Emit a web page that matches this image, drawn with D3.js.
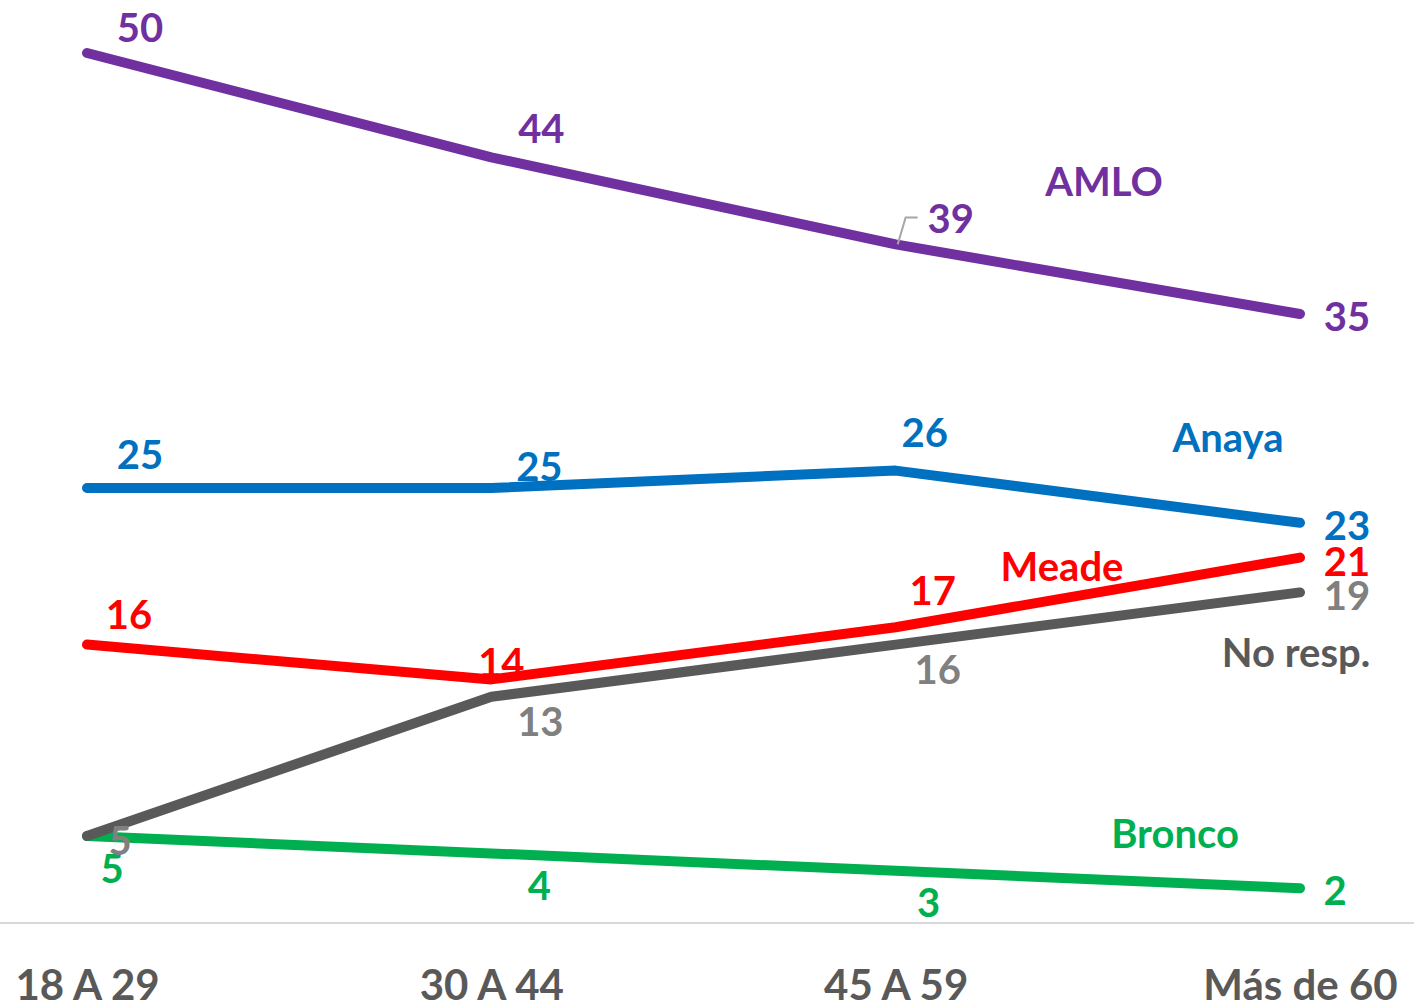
<!DOCTYPE html>
<html>
<head>
<meta charset="utf-8">
<script src="https://cdn.jsdelivr.net/npm/d3@7/dist/d3.min.js"></script>
<style>
  html, body { margin: 0; padding: 0; background: #fff; }
  svg text { font-family: Lato, "Open Sans", sans-serif; }
</style>
</head>
<body>
<svg id="chart"></svg>
<script>
var ageGroups = ['18 A 29', '30 A 44', '45 A 59', 'Más de 60'];

var amlo = [50, 44, 39, 35];
var anaya = [25, 25, 26, 23];
var meade = [16, 14, 17, 21];
var noResp = [5, 13, 16, 19];
var bronco = [5, 4, 3, 2];

var seriesNames = ['AMLO', 'Anaya', 'Meade', 'No resp.', 'Bronco'];

// label offsets from each point (layout only)
var labelOffsets = {
    'AMLO':     [[53, -11], [50, -14], [55, -11], [47, 17]],
    'Anaya':    [[53, -19], [48, -7], [29, -24], [47, 17]],
    'Meade':    [[42, -16], [10, -2], [37, -22], [47, 18]],
    'No resp.': [[33, 19], [49, 39], [42, 39], [47, 18]],
    'Bronco':   [[25, 47], [48, 47], [33, 46], [35, 17]]
};
// where each series name sits (x centre, baseline)
var namePositions = {
    'AMLO': [1104, 196],
    'Anaya': [1228, 452],
    'Meade': [1062, 581],
    'No resp.': [1296, 667],
    'Bronco': [1175, 848]
};

var width = 1414;
var height = 1005;

var svg = d3.select('#chart')
    .attr('width', width)
    .attr('height', height);

var x = d3.scalePoint()
    .domain(ageGroups)
    .range([87, 1300]);

var y = d3.scaleLinear()
    .domain([0, 50])
    .range([923, 53]);

var series = [
    {name: 'Bronco', values: bronco, line: '#00B050', text: '#00B050'},
    {name: 'No resp.', values: noResp, line: '#595959', text: '#808080'},
    {name: 'Meade', values: meade, line: '#FF0000', text: '#FF0000'},
    {name: 'Anaya', values: anaya, line: '#0070C0', text: '#0070C0'},
    {name: 'AMLO', values: amlo, line: '#7030A0', text: '#7030A0'}
];

// baseline
svg.append('line')
    .attr('x1', 0).attr('x2', width)
    .attr('y1', y(0)).attr('y2', y(0))
    .attr('stroke', '#d9d9d9')
    .attr('stroke-width', 2);

// x axis labels
var xAxis = d3.axisBottom(x).tickSize(0).tickPadding(0);
var axisG = svg.append('g')
    .attr('transform', 'translate(0,' + (y(0) + 77) + ')')
    .call(xAxis);
axisG.select('.domain').remove();
axisG.selectAll('text')
    .attr('y', 0)
    .attr('dy', 0)
    .attr('fill', '#595959')
    .attr('font-size', 42)
    .attr('font-weight', 'bold')
    .attr('font-family', 'Lato, sans-serif')
    .attr('text-anchor', 'middle');

var line = d3.line()
    .x(function(d, i) { return x(ageGroups[i]); })
    .y(function(d) { return y(d); });

svg.selectAll('path.series')
    .data(series)
    .enter().append('path')
    .attr('class', 'series')
    .attr('d', function(s) { return line(s.values); })
    .attr('fill', 'none')
    .attr('stroke', function(s) { return s.line; })
    .attr('stroke-width', 10)
    .attr('stroke-linecap', 'round')
    .attr('stroke-linejoin', 'round');

// leader line for the 39 label
svg.append('polyline')
    .attr('points', [
        [x(ageGroups[2]) + 2, y(amlo[2])],
        [x(ageGroups[2]) + 10, y(amlo[2]) - 27],
        [x(ageGroups[2]) + 22, y(amlo[2]) - 27]
    ].join(' '))
    .attr('fill', 'none')
    .attr('stroke', '#a6a6a6')
    .attr('stroke-width', 2);

// value labels
series.forEach(function(s) {
    svg.append('g')
        .selectAll('text')
        .data(s.values)
        .enter().append('text')
        .attr('x', function(d, i) { return x(ageGroups[i]) + labelOffsets[s.name][i][0]; })
        .attr('y', function(d, i) { return y(d) + labelOffsets[s.name][i][1]; })
        .attr('text-anchor', 'middle')
        .attr('font-size', 40)
        .attr('font-weight', 'bold')
        .attr('fill', s.text)
        .text(function(d) { return d; });
});

// series names
svg.append('g')
    .selectAll('text')
    .data(series)
    .enter().append('text')
    .attr('x', function(s) { return namePositions[s.name][0]; })
    .attr('y', function(s) { return namePositions[s.name][1]; })
    .attr('text-anchor', 'middle')
    .attr('font-size', 40)
    .attr('font-weight', 'bold')
    .attr('fill', function(s) { return s.name === 'No resp.' ? '#595959' : s.text; })
    .text(function(s) { return s.name; });
</script>
</body>
</html>
